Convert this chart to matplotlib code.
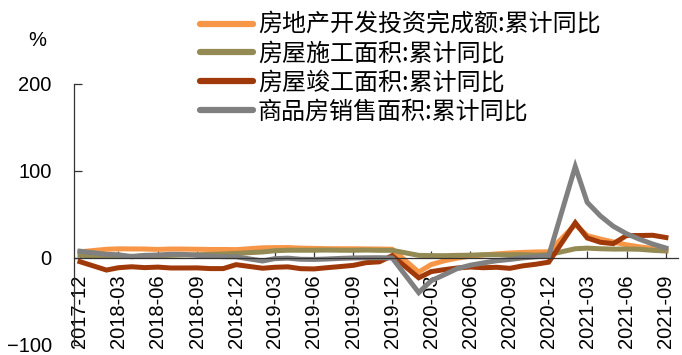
import numpy as np
import pandas as pd
import matplotlib
matplotlib.use("Agg")
import matplotlib.pyplot as plt
import matplotlib.dates as mdates

plt.rcParams['font.family'] = ['Liberation Sans', 'Noto Sans CJK SC', 'DejaVu Sans']

# months (Jan is merged into Feb in the source data)
months = ['2017-12',
          '2018-02', '2018-03', '2018-04', '2018-05', '2018-06', '2018-07',
          '2018-08', '2018-09', '2018-10', '2018-11', '2018-12',
          '2019-02', '2019-03', '2019-04', '2019-05', '2019-06', '2019-07',
          '2019-08', '2019-09', '2019-10', '2019-11', '2019-12',
          '2020-02', '2020-03', '2020-04', '2020-05', '2020-06', '2020-07',
          '2020-08', '2020-09', '2020-10', '2020-11', '2020-12',
          '2021-02', '2021-03', '2021-04', '2021-05', '2021-06', '2021-07',
          '2021-08', '2021-09']

invest = [7.0,
          9.9, 10.4, 10.3, 10.2, 9.7, 10.2, 10.1, 9.9, 9.7, 9.7, 9.5,
          11.6, 11.8, 11.9, 11.2, 10.9, 10.6, 10.5, 10.5, 10.3, 10.2, 9.9,
          -16.3, -7.7, -3.3, -0.3, 1.9, 3.4, 4.6, 5.6, 6.3, 6.8, 7.0,
          38.3, 25.6, 21.6, 18.3, 15.0, 12.7, 10.9, 8.8]

construction = [3.0,
                1.6, 2.0, 1.8, 2.2, 2.5, 2.9, 3.3, 3.6, 4.0, 4.5, 5.2,
                6.8, 8.2, 8.8, 8.8, 8.8, 9.0, 8.8, 8.7, 9.0, 8.7, 8.7,
                2.9, 2.6, 2.5, 2.9, 3.1, 3.6, 3.6, 3.6, 3.7, 3.2, 3.7,
                10.5, 11.2, 10.5, 10.1, 10.2, 9.9, 8.7, 7.9]

completed = [-4.4,
             -14.0, -11.3, -10.2, -11.2, -10.6, -11.6, -11.6, -11.5, -12.3, -12.3, -7.8,
             -11.9, -10.8, -10.3, -12.4, -12.7, -11.3, -10.0, -8.6, -5.5, -4.5, 2.6,
             -22.9, -15.8, -13.5, -11.6, -10.5, -11.3, -10.8, -12.0, -9.2, -7.3, -4.9,
             40.4, 22.9, 17.9, 16.4, 25.7, 25.7, 26.0, 23.4]

sales = [7.7,
         4.1, 3.6, 1.3, 2.9, 3.3, 4.2, 4.0, 2.9, 2.2, 1.4, 1.3,
         -3.6, -0.9, -0.3, -1.6, -1.8, -1.3, -0.6, -0.1, 0.1, 0.2, -0.1,
         -39.9, -26.3, -19.3, -12.3, -8.4, -5.8, -3.3, -1.8, 0.0, 1.3, 2.6,
         104.9, 63.8, 48.1, 36.3, 27.7, 21.5, 15.9, 11.3]

labels = ['房地产开发投资完成额:累计同比', '房屋施工面积:累计同比',
          '房屋竣工面积:累计同比', '商品房销售面积:累计同比']
colors = ['#F79646', '#948A54', '#A0390A', '#808080']

dates = pd.to_datetime(months, format='%Y-%m')

fig = plt.figure(figsize=(6.82, 3.55), dpi=100)
ax = fig.add_axes([0.1085, 0.0285, 0.8855, 0.7352])

for y, c, lab in zip([invest, construction, completed, sales], colors, labels):
    ax.plot(dates, y, color=c, lw=3.6, label=lab, solid_joinstyle='miter')

ax.set_ylim(-100, 200)
ax.set_yticks([-100, 0, 100, 200])
ax.set_xlim(pd.Timestamp('2017-11-17'), pd.Timestamp('2021-09-29'))

ax.xaxis.set_major_locator(mdates.MonthLocator(bymonth=[3, 6, 9, 12]))
ax.xaxis.set_major_formatter(mdates.DateFormatter('%Y-%m'))

ax.spines['top'].set_visible(False)
ax.spines['right'].set_visible(False)
ax.spines['bottom'].set_position(('data', 0))
for s in ['left', 'bottom']:
    ax.spines[s].set_color('#333333')
    ax.spines[s].set_linewidth(0.9)

ax.tick_params(axis='x', direction='in', length=5, width=0.9, pad=12,
               labelsize=14.5, labelrotation=90, color='#333333')
ax.tick_params(axis='y', direction='in', length=6, width=0.9, pad=16,
               labelsize=14.5, color='#333333')

fig.text(0.042, 0.885, '%', fontsize=14.5, ha='left', va='center')

leg = ax.legend(loc='upper left', bbox_to_anchor=(0.29, 0.973),
                bbox_transform=fig.transFigure, frameon=False,
                prop={'family': 'Noto Sans CJK SC', 'size': 17.3},
                handlelength=2.2, handletextpad=0.2, labelspacing=0.12,
                borderpad=0.1, borderaxespad=0)
for h in leg.get_lines():
    h.set_linewidth(4.5)
    h.set_solid_capstyle('round')

fig.savefig('out.png', dpi=100)
